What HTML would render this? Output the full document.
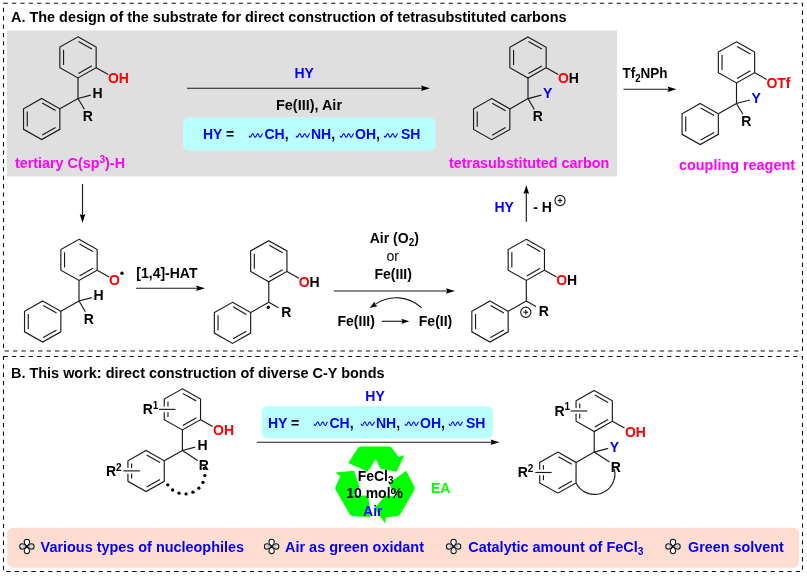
<!DOCTYPE html>
<html lang="en"><head><meta charset="utf-8"><title>Scheme</title>
<style>
html,body{margin:0;padding:0;background:#fff}
body{width:807px;height:576px;overflow:hidden}
svg{display:block;will-change:transform}
text{font-family:"Liberation Sans",sans-serif;font-weight:bold;font-size:14px;fill:#000}
.bd line,.bd polygon,.bd path{stroke:#1a1a1a;stroke-width:1.15;fill:none;stroke-linecap:butt;stroke-linejoin:miter}
.red{fill:#ff0000}
.blu{fill:#0000ff}
.blk{fill:#000}
.mag{fill:#ff00ff}
.grn{fill:#00ff00}
.sm{font-size:10px}
.dash{stroke:#111;stroke-width:1.1;fill:none;stroke-dasharray:4.3 4.1}
.ar{stroke:#1a1a1a;stroke-width:1.15;fill:none}
.ah{fill:#000;stroke:none}
.gap{stroke-width:5.6;stroke-linecap:butt}
</style></head><body>
<svg width="807" height="576" viewBox="0 0 807 576">
<rect x="0" y="0" width="807" height="576" fill="#ffffff"/>
<defs><linearGradient id="pg" x1="0" y1="0" x2="0" y2="1"><stop offset="0" stop-color="#ffffff"/><stop offset="1" stop-color="#9a9a9a"/></linearGradient></defs>
<rect x="7" y="30.5" width="610" height="146" fill="#dfdfdf"/>
<rect class="dash" x="3.5" y="3.2" width="799" height="347.8"/>
<rect class="dash" x="3.5" y="356.5" width="799" height="215"/>
<rect x="183" y="117.5" width="252.5" height="33" rx="6" fill="#baffff"/>
<rect x="261.7" y="406.2" width="231.4" height="32.3" rx="6" fill="#baffff"/>
<rect x="7.2" y="527.8" width="792" height="40" rx="6" fill="#ffded1"/>
<text x="11" y="22.3" textLength="555.5" lengthAdjust="spacingAndGlyphs">A. The design of the substrate for direct construction of tetrasubstituted carbons</text>
<text x="11" y="377.5" textLength="373.5" lengthAdjust="spacingAndGlyphs">B. This work: direct construction of diverse C-Y bonds</text>
<g class="bd">
<polygon points="78,36.85 96.15,47.12 96.15,67.67 78,77.95 59.85,67.67 59.85,47.12"/>
<line x1="63.55" y1="64.94" x2="63.55" y2="49.86"/>
<line x1="78.5" y1="41.39" x2="91.89" y2="48.97"/>
<line x1="91.89" y1="65.83" x2="78.5" y2="73.41"/>
<line x1="78" y1="98.5" x2="78" y2="77.95"/>
<polygon points="41.69,98.5 59.85,108.78 59.85,129.32 41.69,139.6 23.54,129.32 23.54,108.77"/>
<line x1="27.24" y1="126.59" x2="27.24" y2="111.51"/>
<line x1="42.2" y1="103.04" x2="55.59" y2="110.62"/>
<line x1="55.59" y1="127.48" x2="42.2" y2="135.06"/>
<line x1="78" y1="98.5" x2="59.85" y2="108.78"/>
</g>
<g class="bd">
<line x1="96.15" y1="67.67" x2="108.25" y2="74.52"/>
<line x1="78" y1="98.5" x2="90.81" y2="95.14"/>
<line x1="78" y1="98.5" x2="84.38" y2="109.33"/>
</g>
<text x="107.91" y="82.75"><tspan class="red">OH</tspan></text>
<text x="97.55" y="97.88" text-anchor="middle">H</text>
<text x="87.78" y="121" text-anchor="middle">R</text>
<text x="15" y="167.5" class="mag" textLength="110" lengthAdjust="spacingAndGlyphs">tertiary C(sp<tspan class="sm" dy="-5">3</tspan><tspan dy="5">)-H</tspan></text>
<g class="bd">
<polygon points="528,36.95 546.15,47.22 546.15,67.77 528,78.05 509.85,67.77 509.85,47.22"/>
<line x1="513.55" y1="65.04" x2="513.55" y2="49.96"/>
<line x1="528.5" y1="41.49" x2="541.89" y2="49.07"/>
<line x1="541.89" y1="65.93" x2="528.5" y2="73.51"/>
<line x1="528" y1="98.6" x2="528" y2="78.05"/>
<polygon points="491.69,98.6 509.85,108.88 509.85,129.42 491.69,139.7 473.54,129.42 473.54,108.87"/>
<line x1="477.24" y1="126.69" x2="477.24" y2="111.61"/>
<line x1="492.2" y1="103.14" x2="505.59" y2="110.72"/>
<line x1="505.59" y1="127.58" x2="492.2" y2="135.16"/>
<line x1="528" y1="98.6" x2="509.85" y2="108.88"/>
</g>
<g class="bd">
<line x1="546.15" y1="67.77" x2="558.25" y2="74.62"/>
<line x1="528" y1="98.6" x2="541.4" y2="95.08"/>
<line x1="528" y1="98.6" x2="534.38" y2="109.43"/>
</g>
<text x="557.91" y="82.85"><tspan class="red">O</tspan><tspan>H</tspan></text>
<text x="547.55" y="97.98" class="blu" text-anchor="middle">Y</text>
<text x="537.78" y="121.1" text-anchor="middle">R</text>
<text x="449" y="167.5" class="mag" textLength="160.3" lengthAdjust="spacingAndGlyphs">tetrasubstituted carbon</text>
<g class="bd">
<polygon points="736.5,41.85 754.65,52.12 754.65,72.67 736.5,82.95 718.35,72.67 718.35,52.12"/>
<line x1="722.05" y1="69.94" x2="722.05" y2="54.86"/>
<line x1="737" y1="46.39" x2="750.39" y2="53.97"/>
<line x1="750.39" y1="70.83" x2="737" y2="78.41"/>
<line x1="736.5" y1="103.5" x2="736.5" y2="82.95"/>
<polygon points="700.19,103.5 718.35,113.78 718.35,134.32 700.19,144.6 682.04,134.32 682.04,113.77"/>
<line x1="685.74" y1="131.59" x2="685.74" y2="116.51"/>
<line x1="700.7" y1="108.04" x2="714.09" y2="115.62"/>
<line x1="714.09" y1="132.48" x2="700.7" y2="140.06"/>
<line x1="736.5" y1="103.5" x2="718.35" y2="113.78"/>
</g>
<g class="bd">
<line x1="754.65" y1="72.67" x2="766.75" y2="79.52"/>
<line x1="736.5" y1="103.5" x2="749.9" y2="99.98"/>
<line x1="736.5" y1="103.5" x2="742.88" y2="114.33"/>
</g>
<text x="766.41" y="87.75"><tspan class="red">OTf</tspan></text>
<text x="756.05" y="102.88" class="blu" text-anchor="middle">Y</text>
<text x="746.28" y="126" text-anchor="middle">R</text>
<text x="679" y="169.5" class="mag" textLength="116" lengthAdjust="spacingAndGlyphs">coupling reagent</text>
<g class="bd">
<polygon points="79,239.35 97.15,249.62 97.15,270.17 79,280.45 60.85,270.17 60.85,249.62"/>
<line x1="64.55" y1="267.44" x2="64.55" y2="252.36"/>
<line x1="79.5" y1="243.89" x2="92.89" y2="251.47"/>
<line x1="92.89" y1="268.33" x2="79.5" y2="275.91"/>
<line x1="79" y1="301" x2="79" y2="280.45"/>
<polygon points="42.69,301 60.85,311.28 60.85,331.82 42.69,342.1 24.54,331.82 24.54,311.28"/>
<line x1="28.24" y1="329.09" x2="28.24" y2="314.01"/>
<line x1="43.2" y1="305.54" x2="56.59" y2="313.12"/>
<line x1="56.59" y1="329.98" x2="43.2" y2="337.56"/>
<line x1="79" y1="301" x2="60.85" y2="311.27"/>
</g>
<g class="bd">
<line x1="97.15" y1="270.17" x2="109.25" y2="277.02"/>
<line x1="79" y1="301" x2="91.81" y2="297.64"/>
<line x1="79" y1="301" x2="85.38" y2="311.83"/>
</g>
<text x="108.91" y="285.25"><tspan class="red">O</tspan></text>
<text x="98.55" y="300.38" text-anchor="middle">H</text>
<text x="88.78" y="323.5" text-anchor="middle">R</text>
<circle cx="122" cy="273.2" r="1.7" fill="#000"/>
<g class="bd">
<polygon points="268.8,240.65 286.95,250.92 286.95,271.47 268.8,281.75 250.65,271.47 250.65,250.92"/>
<line x1="254.35" y1="268.74" x2="254.35" y2="253.66"/>
<line x1="269.3" y1="245.19" x2="282.69" y2="252.77"/>
<line x1="282.69" y1="269.63" x2="269.3" y2="277.21"/>
<line x1="268.8" y1="302.3" x2="268.8" y2="281.75"/>
<polygon points="232.49,302.3 250.65,312.58 250.65,333.12 232.49,343.4 214.34,333.12 214.34,312.58"/>
<line x1="218.04" y1="330.39" x2="218.04" y2="315.31"/>
<line x1="233" y1="306.84" x2="246.39" y2="314.42"/>
<line x1="246.39" y1="331.28" x2="233" y2="338.86"/>
<line x1="268.8" y1="302.3" x2="250.65" y2="312.57"/>
</g>
<g class="bd">
<line x1="286.95" y1="271.47" x2="299.05" y2="278.32"/>
<line x1="268.8" y1="302.3" x2="278.52" y2="307.8"/>
</g>
<text x="298.71" y="286.55"><tspan class="red">O</tspan><tspan>H</tspan></text>
<text x="286.25" y="317.27" text-anchor="middle">R</text>
<circle cx="268.3" cy="307.2" r="1.7" fill="#000"/>
<g class="bd">
<polygon points="526.3,239.35 544.45,249.62 544.45,270.17 526.3,280.45 508.15,270.17 508.15,249.62"/>
<line x1="511.85" y1="267.44" x2="511.85" y2="252.36"/>
<line x1="526.8" y1="243.89" x2="540.19" y2="251.47"/>
<line x1="540.19" y1="268.33" x2="526.8" y2="275.91"/>
<line x1="526.3" y1="301" x2="526.3" y2="280.45"/>
<polygon points="489.99,301 508.15,311.28 508.15,331.82 489.99,342.1 471.84,331.82 471.84,311.28"/>
<line x1="475.54" y1="329.09" x2="475.54" y2="314.01"/>
<line x1="490.5" y1="305.54" x2="503.89" y2="313.12"/>
<line x1="503.89" y1="329.98" x2="490.5" y2="337.56"/>
<line x1="526.3" y1="301" x2="508.15" y2="311.27"/>
</g>
<g class="bd">
<line x1="544.45" y1="270.17" x2="556.55" y2="277.02"/>
<line x1="526.3" y1="301" x2="536.02" y2="306.5"/>
</g>
<text x="556.21" y="285.25"><tspan class="red">O</tspan><tspan>H</tspan></text>
<text x="543.75" y="315.97" text-anchor="middle">R</text>
<g class="bd"><path d="M530.9 312.2A5.1 5.1 0 1 1 520.7 312.2A5.1 5.1 0 1 1 530.9 312.2" stroke-width="0.8"/><line x1="523.4" y1="312.2" x2="528.2" y2="312.2" stroke-width="0.8"/><line x1="525.8" y1="309.8" x2="525.8" y2="314.6" stroke-width="0.8"/></g>
<g class="bd"><path d="M565.1 200.5A5.1 5.1 0 1 1 554.9 200.5A5.1 5.1 0 1 1 565.1 200.5" stroke-width="0.8"/><line x1="557.6" y1="200.5" x2="562.4" y2="200.5" stroke-width="0.8"/><line x1="560" y1="198.1" x2="560" y2="202.9" stroke-width="0.8"/></g>
<line class="ar" x1="187" y1="88.2" x2="423" y2="88.2"/>
<path class="ah" d="M430 88.2L421 85.4L422.3 88.2L421 91Z"/>
<text x="304.2" y="77.5" class="blu" text-anchor="middle">HY</text>
<text x="276" y="109.5" textLength="66" lengthAdjust="spacingAndGlyphs">Fe(III), Air</text>
<text x="203" y="139.3" class="blu">HY <tspan class="blk">=</tspan></text>
<polyline points="249,135.61 249.34,136.36 249.69,136.94 250.03,137.26 250.38,137.25 250.72,136.92 251.07,136.33 251.41,135.58 251.76,134.82 252.1,134.18 252.45,133.79 252.79,133.71 253.14,133.97 253.49,134.51 253.83,135.23 254.18,136 254.52,136.68 254.87,137.14 255.21,137.3 255.56,137.12 255.9,136.65 256.25,135.96 256.59,135.18 256.94,134.47 257.28,133.94 257.62,133.71 257.97,133.8 258.31,134.21 258.66,134.86 259,135.62 259.35,136.37 259.69,136.95 260.04,137.26 260.38,137.25 260.73,136.92 261.07,136.32 261.42,135.57 261.76,134.81 262.11,134.17 262.45,133.78 262.8,133.71" stroke="#0000ff" stroke-width="1.05" fill="none" stroke-linejoin="round"/>
<text x="264.5" y="139.3" class="blu">CH<tspan class="blk">,</tspan></text>
<polyline points="296,135.61 296.35,136.36 296.69,136.94 297.04,137.26 297.38,137.25 297.73,136.92 298.07,136.33 298.42,135.58 298.76,134.82 299.11,134.18 299.45,133.79 299.8,133.71 300.14,133.97 300.49,134.51 300.83,135.23 301.18,136 301.52,136.68 301.87,137.14 302.21,137.3 302.56,137.12 302.9,136.65 303.25,135.96 303.59,135.18 303.94,134.47 304.28,133.94 304.62,133.71 304.97,133.8 305.31,134.21 305.66,134.86 306,135.62 306.35,136.37 306.69,136.95 307.04,137.26 307.38,137.25 307.73,136.92 308.07,136.32 308.42,135.57 308.76,134.81 309.11,134.17 309.45,133.78 309.8,133.71" stroke="#0000ff" stroke-width="1.05" fill="none" stroke-linejoin="round"/>
<text x="311" y="139.3" class="blu">NH<tspan class="blk">,</tspan></text>
<polyline points="340,135.61 340.35,136.36 340.69,136.94 341.04,137.26 341.38,137.25 341.73,136.92 342.07,136.33 342.42,135.58 342.76,134.82 343.11,134.18 343.45,133.79 343.8,133.71 344.14,133.97 344.49,134.51 344.83,135.23 345.18,136 345.52,136.68 345.87,137.14 346.21,137.3 346.56,137.12 346.9,136.65 347.25,135.96 347.59,135.18 347.94,134.47 348.28,133.94 348.62,133.71 348.97,133.8 349.31,134.21 349.66,134.86 350,135.62 350.35,136.37 350.69,136.95 351.04,137.26 351.38,137.25 351.73,136.92 352.07,136.32 352.42,135.57 352.76,134.81 353.11,134.17 353.45,133.78 353.8,133.71" stroke="#0000ff" stroke-width="1.05" fill="none" stroke-linejoin="round"/>
<text x="355" y="139.3" class="blu">OH<tspan class="blk">,</tspan></text>
<polyline points="384,135.61 384.35,136.36 384.69,136.94 385.04,137.26 385.38,137.25 385.73,136.92 386.07,136.33 386.42,135.58 386.76,134.82 387.11,134.18 387.45,133.79 387.8,133.71 388.14,133.97 388.49,134.51 388.83,135.23 389.18,136 389.52,136.68 389.87,137.14 390.21,137.3 390.56,137.12 390.9,136.65 391.25,135.96 391.59,135.18 391.94,134.47 392.28,133.94 392.62,133.71 392.97,133.8 393.31,134.21 393.66,134.86 394,135.62 394.35,136.37 394.69,136.95 395.04,137.26 395.38,137.25 395.73,136.92 396.07,136.32 396.42,135.57 396.76,134.81 397.11,134.17 397.45,133.78 397.8,133.71" stroke="#0000ff" stroke-width="1.05" fill="none" stroke-linejoin="round"/>
<text x="401" y="139.3" class="blu">SH</text>
<line class="ar" x1="623.5" y1="89.2" x2="669.5" y2="89.2"/>
<path class="ah" d="M676.5 89.2L667.5 86.4L668.8 89.2L667.5 92Z"/>
<text x="622.5" y="78.3" textLength="45" lengthAdjust="spacingAndGlyphs">Tf<tspan class="sm" dy="3.5">2</tspan><tspan dy="-3.5">NPh</tspan></text>
<line class="ar" x1="82.5" y1="184" x2="82.5" y2="216"/>
<path class="ah" d="M82.5 223L79.7 214L82.5 215.3L85.3 214Z"/>
<line class="ar" x1="136" y1="288.2" x2="198" y2="288.2"/>
<path class="ah" d="M205 288.2L196 285.4L197.3 288.2L196 291Z"/>
<text x="136.3" y="278">[1,4]-HAT</text>
<line class="ar" x1="333.8" y1="291" x2="448" y2="291"/>
<path class="ah" d="M455 291L446 288.2L447.3 291L446 293.8Z"/>
<text x="394.3" y="242.5" text-anchor="middle">Air (O<tspan class="sm" dy="3.5">2</tspan><tspan dy="-3.5">)</tspan></text>
<text x="392.8" y="261.3" text-anchor="middle" style="font-weight:normal">or</text>
<text x="393.2" y="278.8" text-anchor="middle">Fe(III)</text>
<text x="337.5" y="325.5">Fe(III)</text>
<line class="ar" x1="381.8" y1="321.3" x2="403.3" y2="321.3"/>
<path class="ah" d="M409.3 321.3L401.3 318.7L402.6 321.3L401.3 323.9Z"/>
<text x="418.8" y="325.5">Fe(II)</text>
<path class="ar" d="M421.6 307.8A36.7 36.7 0 0 0 375.2 304.4"/>
<path class="ah" d="M369.7 308L374.5 301.6L375 304.6L377.5 306.2Z"/>
<line class="ar" x1="526.3" y1="221.8" x2="526.3" y2="192"/>
<path class="ah" d="M526.3 185L523.5 194L526.3 192.7L529.1 194Z"/>
<text x="494.5" y="212" class="blu">HY</text>
<text x="533.3" y="212">- H</text>
<g class="bd">
<polygon points="182.4,388.85 200.55,399.12 200.55,419.67 182.4,429.95 164.25,419.67 164.25,399.12"/>
<line x1="167.95" y1="416.94" x2="167.95" y2="401.86"/>
<line x1="182.9" y1="393.39" x2="196.29" y2="400.97"/>
<line x1="196.29" y1="417.83" x2="182.9" y2="425.41"/>
<line x1="182.4" y1="450.5" x2="182.4" y2="429.95"/>
<polygon points="146.09,450.5 164.25,460.78 164.25,481.32 146.09,491.6 127.94,481.32 127.94,460.78"/>
<line x1="131.64" y1="478.59" x2="131.64" y2="463.51"/>
<line x1="146.6" y1="455.04" x2="159.99" y2="462.62"/>
<line x1="159.99" y1="479.48" x2="146.6" y2="487.06"/>
<line x1="182.4" y1="450.5" x2="164.25" y2="460.77"/>
</g>
<g class="bd">
<line x1="200.55" y1="419.67" x2="212.65" y2="426.52"/>
<line x1="182.4" y1="450.5" x2="195.21" y2="447.14"/>
<line x1="182.4" y1="450.5" x2="197.7" y2="460.4"/>
<line class="gap" stroke="#fff" x1="162.75" y1="409.38" x2="170.25" y2="409.38" style="stroke:#fff;stroke-width:5.6"/>
<line x1="158.85" y1="409.38" x2="175.55" y2="409.38"/>
<line x1="126.44" y1="470.88" x2="133.94" y2="470.88" style="stroke:#fff;stroke-width:5.6"/>
<line x1="123.44" y1="470.88" x2="139.84" y2="470.88"/>
</g>
<text x="213.11" y="435.05" class="red">OH</text>
<text x="202.65" y="450.18" text-anchor="middle">H</text>
<text x="203.9" y="470.1" text-anchor="middle">R</text>
<text x="142.65" y="414.02">R<tspan class="sm" dy="-5.3">1</tspan></text>
<text x="105.94" y="475.88">R<tspan class="sm" dy="-5.3">2</tspan></text>
<circle cx="167.76" cy="484.8" r="1.65" fill="#000"/>
<circle cx="172.63" cy="490" r="1.65" fill="#000"/>
<circle cx="179" cy="493.18" r="1.65" fill="#000"/>
<circle cx="186.07" cy="493.95" r="1.65" fill="#000"/>
<circle cx="192.98" cy="492.22" r="1.65" fill="#000"/>
<circle cx="198.86" cy="488.21" r="1.65" fill="#000"/>
<circle cx="202.98" cy="482.4" r="1.65" fill="#000"/>
<circle cx="204.83" cy="475.53" r="1.65" fill="#000"/>
<circle cx="204.17" cy="468.44" r="1.65" fill="#000"/>
<g class="bd">
<polygon points="594.2,390.45 612.35,400.73 612.35,421.27 594.2,431.55 576.05,421.27 576.05,400.73"/>
<line x1="579.75" y1="418.54" x2="579.75" y2="403.46"/>
<line x1="594.7" y1="394.99" x2="608.09" y2="402.57"/>
<line x1="608.09" y1="419.43" x2="594.7" y2="427.01"/>
<line x1="594.2" y1="452.1" x2="594.2" y2="431.55"/>
<polygon points="557.89,452.1 576.05,462.38 576.05,482.93 557.89,493.2 539.74,482.93 539.74,462.38"/>
<line x1="543.44" y1="480.19" x2="543.44" y2="465.11"/>
<line x1="558.4" y1="456.64" x2="571.79" y2="464.22"/>
<line x1="571.79" y1="481.08" x2="558.4" y2="488.66"/>
<line x1="594.2" y1="452.1" x2="576.05" y2="462.38"/>
</g>
<g class="bd">
<line x1="612.35" y1="421.27" x2="624.45" y2="428.12"/>
<line x1="594.2" y1="452.1" x2="608.19" y2="448.42"/>
<line x1="594.2" y1="452.1" x2="609.5" y2="462"/>
<line class="gap" stroke="#fff" x1="574.55" y1="410.98" x2="582.05" y2="410.98" style="stroke:#fff;stroke-width:5.6"/>
<line x1="570.65" y1="410.98" x2="587.35" y2="410.98"/>
<line x1="538.24" y1="472.48" x2="545.74" y2="472.48" style="stroke:#fff;stroke-width:5.6"/>
<line x1="535.24" y1="472.48" x2="551.64" y2="472.48"/>
</g>
<text x="624.91" y="436.65" class="red">OH</text>
<text x="614.45" y="451.78" class="blu" text-anchor="middle">Y</text>
<text x="615.7" y="471.7" text-anchor="middle">R</text>
<text x="554.45" y="415.62">R<tspan class="sm" dy="-5.3">1</tspan></text>
<text x="517.74" y="477.48">R<tspan class="sm" dy="-5.3">2</tspan></text>
<g class="bd"><path d="M576.05 482.93A20.5 20.5 0 0 0 614.4 469.2"/></g>
<line class="ar" x1="256.8" y1="442.2" x2="492.5" y2="442.2"/>
<path class="ah" d="M499.5 442.2L490.5 439.4L491.8 442.2L490.5 445Z"/>
<text x="375" y="400.5" class="blu" text-anchor="middle">HY</text>
<text x="268" y="427.5" class="blu">HY <tspan class="blk">=</tspan></text>
<polyline points="314,423.81 314.35,424.56 314.69,425.14 315.04,425.46 315.38,425.45 315.73,425.12 316.07,424.53 316.42,423.78 316.76,423.02 317.11,422.38 317.45,421.99 317.8,421.91 318.14,422.17 318.49,422.71 318.83,423.43 319.18,424.2 319.52,424.88 319.87,425.34 320.21,425.5 320.56,425.32 320.9,424.85 321.25,424.16 321.59,423.38 321.94,422.67 322.28,422.14 322.62,421.91 322.97,422 323.31,422.41 323.66,423.06 324,423.82 324.35,424.57 324.69,425.15 325.04,425.46 325.38,425.45 325.73,425.12 326.07,424.52 326.42,423.77 326.76,423.01 327.11,422.37 327.45,421.98 327.8,421.91" stroke="#0000ff" stroke-width="1.05" fill="none" stroke-linejoin="round"/>
<text x="329.5" y="427.5" class="blu">CH<tspan class="blk">,</tspan></text>
<polyline points="361,423.81 361.35,424.56 361.69,425.14 362.04,425.46 362.38,425.45 362.73,425.12 363.07,424.53 363.42,423.78 363.76,423.02 364.11,422.38 364.45,421.99 364.8,421.91 365.14,422.17 365.49,422.71 365.83,423.43 366.18,424.2 366.52,424.88 366.87,425.34 367.21,425.5 367.56,425.32 367.9,424.85 368.25,424.16 368.59,423.38 368.94,422.67 369.28,422.14 369.62,421.91 369.97,422 370.31,422.41 370.66,423.06 371,423.82 371.35,424.57 371.69,425.15 372.04,425.46 372.38,425.45 372.73,425.12 373.07,424.52 373.42,423.77 373.76,423.01 374.11,422.37 374.45,421.98 374.8,421.91" stroke="#0000ff" stroke-width="1.05" fill="none" stroke-linejoin="round"/>
<text x="376" y="427.5" class="blu">NH<tspan class="blk">,</tspan></text>
<polyline points="405,423.81 405.35,424.56 405.69,425.14 406.04,425.46 406.38,425.45 406.73,425.12 407.07,424.53 407.42,423.78 407.76,423.02 408.11,422.38 408.45,421.99 408.8,421.91 409.14,422.17 409.49,422.71 409.83,423.43 410.18,424.2 410.52,424.88 410.87,425.34 411.21,425.5 411.56,425.32 411.9,424.85 412.25,424.16 412.59,423.38 412.94,422.67 413.28,422.14 413.62,421.91 413.97,422 414.31,422.41 414.66,423.06 415,423.82 415.35,424.57 415.69,425.15 416.04,425.46 416.38,425.45 416.73,425.12 417.07,424.52 417.42,423.77 417.76,423.01 418.11,422.37 418.45,421.98 418.8,421.91" stroke="#0000ff" stroke-width="1.05" fill="none" stroke-linejoin="round"/>
<text x="420" y="427.5" class="blu">OH<tspan class="blk">,</tspan></text>
<polyline points="449,423.81 449.35,424.56 449.69,425.14 450.04,425.46 450.38,425.45 450.73,425.12 451.07,424.53 451.42,423.78 451.76,423.02 452.11,422.38 452.45,421.99 452.8,421.91 453.14,422.17 453.49,422.71 453.83,423.43 454.18,424.2 454.52,424.88 454.87,425.34 455.21,425.5 455.56,425.32 455.9,424.85 456.25,424.16 456.59,423.38 456.94,422.67 457.28,422.14 457.62,421.91 457.97,422 458.31,422.41 458.66,423.06 459,423.82 459.35,424.57 459.69,425.15 460.04,425.46 460.38,425.45 460.73,425.12 461.07,424.52 461.42,423.77 461.76,423.01 462.11,422.37 462.45,421.98 462.8,421.91" stroke="#0000ff" stroke-width="1.05" fill="none" stroke-linejoin="round"/>
<text x="466" y="427.5" class="blu">SH</text>
<g transform="translate(375 483.6) scale(1.03)" fill="#00ff00">
<path transform="rotate(0)" d="M-26 -20L-16.5 -34.6Q-15.5 -36.1 -13.5 -36.1L13.7 -36.1Q15.7 -36.1 16.7 -34.4L23 -25.6L28.6 -27.8L21 -11.5L5.2 -14.4L0.7 -23.9L-7 -11.6Z"/>
<path transform="rotate(120)" d="M-26 -20L-16.5 -34.6Q-15.5 -36.1 -13.5 -36.1L13.7 -36.1Q15.7 -36.1 16.7 -34.4L23 -25.6L28.6 -27.8L21 -11.5L5.2 -14.4L0.7 -23.9L-7 -11.6Z"/>
<path transform="rotate(240)" d="M-26 -20L-16.5 -34.6Q-15.5 -36.1 -13.5 -36.1L13.7 -36.1Q15.7 -36.1 16.7 -34.4L23 -25.6L28.6 -27.8L21 -11.5L5.2 -14.4L0.7 -23.9L-7 -11.6Z"/>
</g>
<text x="375.6" y="480.8" text-anchor="middle">FeCl<tspan class="sm" dy="3.5">3</tspan></text>
<text x="374.6" y="498.3" text-anchor="middle">10 mol%</text>
<text x="372.8" y="515.6" class="blu" text-anchor="middle">Air</text>
<text x="431" y="493" class="grn">EA</text>
<g transform="translate(26.9 546.5)" stroke="#111" stroke-width="1.05" stroke-linejoin="round"><path d="M0 -0.3C-3.7 -2.6 -3.5 -7.2 0 -7.2C3.5 -7.2 3.7 -2.6 0 -0.3Z" fill="#fff"/><path d="M0 -0.3C-3.7 -2.6 -3.5 -7.2 0 -7.2C3.5 -7.2 3.7 -2.6 0 -0.3Z" fill="#fff" transform="rotate(180)"/><path d="M0 -0.3C-3.7 -2.6 -3.5 -7.2 0 -7.2C3.5 -7.2 3.7 -2.6 0 -0.3Z" fill="url(#pg)" transform="rotate(90)"/><path d="M0 -0.3C-3.7 -2.6 -3.5 -7.2 0 -7.2C3.5 -7.2 3.7 -2.6 0 -0.3Z" fill="url(#pg)" transform="rotate(270)"/></g>
<text x="40.6" y="551.5" class="blu" textLength="203.4" lengthAdjust="spacingAndGlyphs">Various types of nucleophiles</text>
<g transform="translate(271.6 546.5)" stroke="#111" stroke-width="1.05" stroke-linejoin="round"><path d="M0 -0.3C-3.7 -2.6 -3.5 -7.2 0 -7.2C3.5 -7.2 3.7 -2.6 0 -0.3Z" fill="#fff"/><path d="M0 -0.3C-3.7 -2.6 -3.5 -7.2 0 -7.2C3.5 -7.2 3.7 -2.6 0 -0.3Z" fill="#fff" transform="rotate(180)"/><path d="M0 -0.3C-3.7 -2.6 -3.5 -7.2 0 -7.2C3.5 -7.2 3.7 -2.6 0 -0.3Z" fill="url(#pg)" transform="rotate(90)"/><path d="M0 -0.3C-3.7 -2.6 -3.5 -7.2 0 -7.2C3.5 -7.2 3.7 -2.6 0 -0.3Z" fill="url(#pg)" transform="rotate(270)"/></g>
<text x="285" y="551.5" class="blu" textLength="139" lengthAdjust="spacingAndGlyphs">Air as green oxidant</text>
<g transform="translate(453.6 546.5)" stroke="#111" stroke-width="1.05" stroke-linejoin="round"><path d="M0 -0.3C-3.7 -2.6 -3.5 -7.2 0 -7.2C3.5 -7.2 3.7 -2.6 0 -0.3Z" fill="#fff"/><path d="M0 -0.3C-3.7 -2.6 -3.5 -7.2 0 -7.2C3.5 -7.2 3.7 -2.6 0 -0.3Z" fill="#fff" transform="rotate(180)"/><path d="M0 -0.3C-3.7 -2.6 -3.5 -7.2 0 -7.2C3.5 -7.2 3.7 -2.6 0 -0.3Z" fill="url(#pg)" transform="rotate(90)"/><path d="M0 -0.3C-3.7 -2.6 -3.5 -7.2 0 -7.2C3.5 -7.2 3.7 -2.6 0 -0.3Z" fill="url(#pg)" transform="rotate(270)"/></g>
<text x="468.3" y="551.5" class="blu" textLength="175.2" lengthAdjust="spacingAndGlyphs">Catalytic amount of FeCl<tspan class="sm" dy="3.5">3</tspan></text>
<g transform="translate(673 546.5)" stroke="#111" stroke-width="1.05" stroke-linejoin="round"><path d="M0 -0.3C-3.7 -2.6 -3.5 -7.2 0 -7.2C3.5 -7.2 3.7 -2.6 0 -0.3Z" fill="#fff"/><path d="M0 -0.3C-3.7 -2.6 -3.5 -7.2 0 -7.2C3.5 -7.2 3.7 -2.6 0 -0.3Z" fill="#fff" transform="rotate(180)"/><path d="M0 -0.3C-3.7 -2.6 -3.5 -7.2 0 -7.2C3.5 -7.2 3.7 -2.6 0 -0.3Z" fill="url(#pg)" transform="rotate(90)"/><path d="M0 -0.3C-3.7 -2.6 -3.5 -7.2 0 -7.2C3.5 -7.2 3.7 -2.6 0 -0.3Z" fill="url(#pg)" transform="rotate(270)"/></g>
<text x="688" y="551.5" class="blu" textLength="95.7" lengthAdjust="spacingAndGlyphs">Green solvent</text>
</svg></body></html>
